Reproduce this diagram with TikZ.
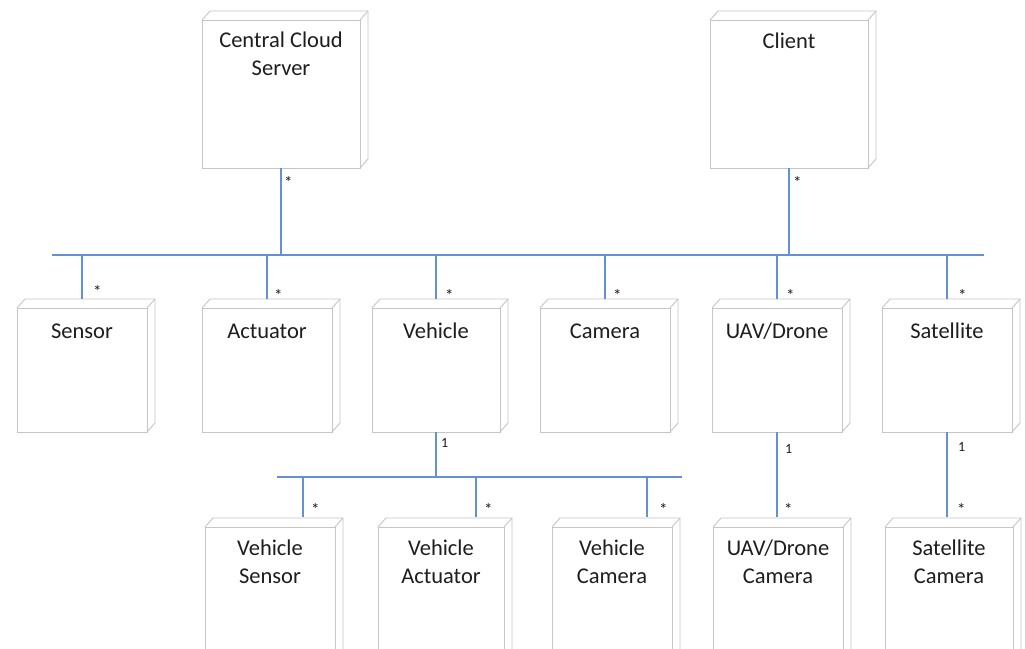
\documentclass[tikz,border=0pt]{standalone}
\usepackage{fontspec}
\setmainfont{Carlito}
\definecolor{boxgray}{RGB}{198,198,198}
\definecolor{linkblue}{RGB}{98,146,212}
\definecolor{txt}{RGB}{30,30,30}
\tikzset{
  umlnode/.style={draw=boxgray, line width=0.9pt, fill=white, inner sep=0pt, outer sep=0pt, anchor=north west,
    font=\fontsize{22.5}{28}\selectfont, text=txt},
  boxline/.style={draw=boxgray, line width=0.9pt},
  conn/.style={draw=linkblue, line width=2.1pt},
  mult/.style={font=\fontsize{14}{14}\selectfont, text=txt, anchor=west, inner sep=0pt},
  star/.style={mult, font=\fontsize{17}{17}\selectfont}
}
% #1 name, #2 x, #3 y, #4 width, #5 height, #6 first baseline, #7 text
\newcommand\umlbox[7]{%
  \node[umlnode] (#1) at (#2,#3) {\parbox[t][#5pt][t]{#4pt}{\centering\rule{0pt}{#6pt}#7}};
  \draw[boxline] (#1.north west) -- ++(8,-9) -- ++(#4,0) -- ++(0,#5) -- ++(-8,9);
  \draw[boxline] (#1.north east) -- ++(8,-9);
}
\begin{document}
\begin{tikzpicture}[x=1pt,y=-1pt]
\fill[white] (0,0) rectangle (1025,648);
\useasboundingbox (0,0) rectangle (1025,648);

% top row
\umlbox{central}{202}{20}{158}{148}{27}{Central Cloud\\Server}
\umlbox{client}{710}{20}{158}{148}{28}{Client}

% second row
\umlbox{sensor}{17}{308}{130}{124}{30}{Sensor}
\umlbox{actuator}{202}{308}{130}{124}{30}{Actuator}
\umlbox{vehicle}{372}{308}{128}{124}{30}{Vehicle}
\umlbox{camera}{540}{308}{130}{124}{30}{Camera}
\umlbox{uav}{712}{308}{130}{124}{30}{UAV/Drone}
\umlbox{satellite}{882}{308}{130}{124}{30}{Satellite}

% third row
\umlbox{vsensor}{205}{527}{130}{135}{28}{Vehicle\\Sensor}
\umlbox{vactuator}{378}{527}{126}{135}{28}{Vehicle\\Actuator}
\umlbox{vcamera}{552}{527}{120}{135}{28}{Vehicle\\Camera}
\umlbox{uavcam}{713}{527}{130}{135}{28}{UAV/Drone\\Camera}
\umlbox{satcam}{885}{527}{128}{135}{28}{Satellite\\Camera}

% buses
\coordinate (busL) at (52,255);
\coordinate (busR) at (984,255);
\coordinate (subL) at (277,477);
\coordinate (subR) at (682,477);
\draw[conn] (busL) -- (busR);
\draw[conn] (subL) -- (subR);

% top connectors
\draw[conn] (central.south) -- (central.south |- busL);
\draw[conn] (client.south) -- (client.south |- busL);

% second row connectors
\foreach \n in {sensor,actuator,vehicle,camera,uav,satellite}{
  \draw[conn] (\n.north |- busL) -- ([yshift=9pt]\n.north);
}

% vehicle sub-parts
\draw[conn] (vehicle.south) -- (vehicle.south |- subL);
\draw[conn] ([xshift=33pt]vsensor.north |- subL) -- ([xshift=33pt,yshift=10pt]vsensor.north);
\draw[conn] ([xshift=35pt]vactuator.north |- subL) -- ([xshift=35pt,yshift=10pt]vactuator.north);
\draw[conn] ([xshift=35pt]vcamera.north |- subL) -- ([xshift=35pt,yshift=10pt]vcamera.north);

% uav and satellite cameras
\coordinate (uavtop) at ([yshift=10pt]uavcam.north);
\coordinate (sattop) at ([yshift=10pt]satcam.north);
\draw[conn] (uav.south) -- (uav.south |- uavtop);
\draw[conn] (satellite.south) -- (satellite.south |- sattop);

% multiplicities
\node[star] (m1) at (284,182) {*};
\node[star] (m2) at (793,182) {*};
\node[star] (m3) at (93,291) {*};
\node[star] (m4) at (274,295) {*};
\node[star] (m5) at (445,295) {*};
\node[star] (m6) at (613,295) {*};
\node[star] (m7) at (786,295) {*};
\node[star] (m8) at (958,295) {*};
\node[mult] (m9) at (441,443) {1};
\node[star] (m10) at (311,509) {*};
\node[star] (m11) at (484,509) {*};
\node[star] (m12) at (659,509) {*};
\node[mult] (m13) at (785,449) {1};
\node[star] (m14) at (784,509) {*};
\node[mult] (m15) at (958,447) {1};
\node[star] (m16) at (957,509) {*};
\end{tikzpicture}
\end{document}
